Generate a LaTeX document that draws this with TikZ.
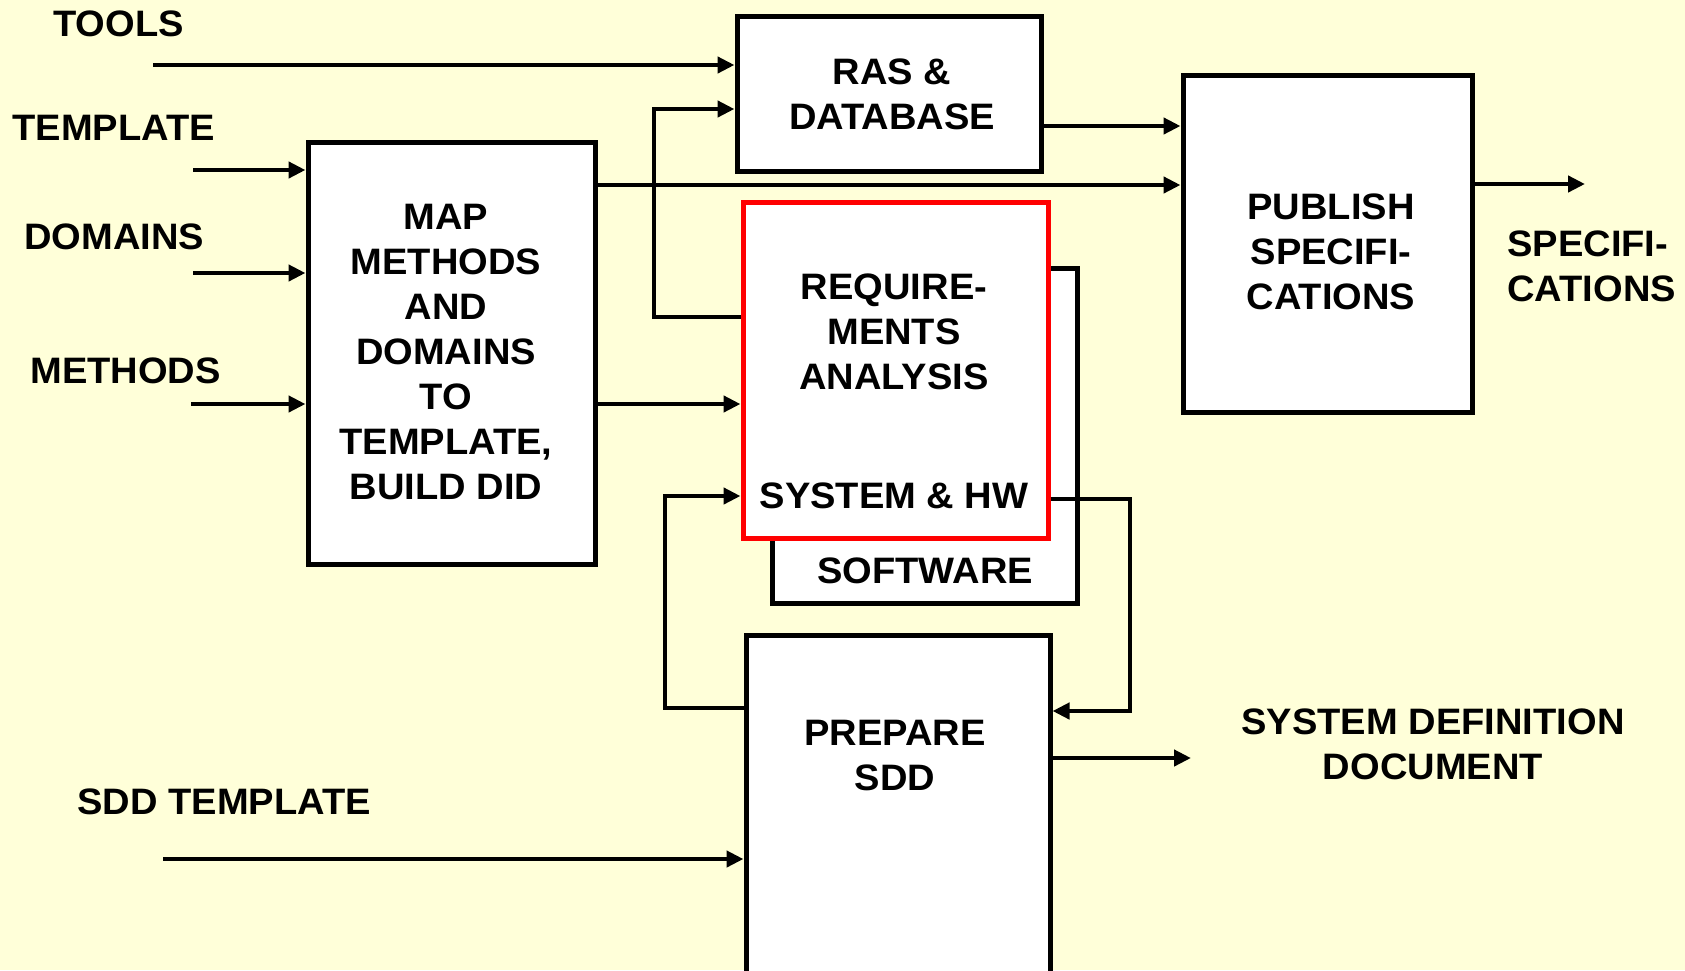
\documentclass[tikz,border=0pt]{standalone}
\usepackage{fontspec}
\setmainfont{Liberation Sans}[FakeStretch=1.035]
\usetikzlibrary{arrows.meta}
\definecolor{bg}{HTML}{FFFFD9}
\definecolor{redbox}{HTML}{FF0000}
\begin{document}
\begin{tikzpicture}[x=0.5pt,y=-0.5pt,
  box/.style={draw=black, fill=white, line width=2.5pt, inner sep=0pt, rectangle},
  lbl/.style={font=\fontsize{18.4pt}{22.5pt}\selectfont\bfseries, align=center, inner sep=0pt},
  inlbl/.style={font=\fontsize{18.4pt}{22.5pt}\selectfont\bfseries, inner sep=0pt, anchor=west, align=left},
  arr/.style={line width=2.3pt, -{Triangle[length=8.5pt,width=8pt]}}]
\path[fill=bg, use as bounding box] (0,0) rectangle (1685,970);
\clip (0,0) rectangle (1685,970);

% boxes
\node[box, minimum width=152pt, minimum height=77.5pt] (ras) at (889,93.5) {};
\node[box, minimum width=143.5pt, minimum height=211pt] (map) at (451.5,353) {};
\node[box, minimum width=152.5pt, minimum height=167.5pt] (sw) at (924.5,435.5) {};
\node[box, draw=redbox, minimum width=152.5pt, minimum height=168pt] (req) at (895.5,370) {};
\node[box, minimum width=144.5pt, minimum height=168.5pt] (pub) at (1327.5,243.5) {};
\node[box, minimum width=152pt, minimum height=170.5pt] (prep) at (898,805.5) {};

% texts in boxes
\node[lbl] (rasT) at (892,94) {RAS \&\\DATABASE};
\node[lbl] (mapT) at (446,352.5) {MAP\\METHODS\\AND\\DOMAINS\\TO\\TEMPLATE,\\BUILD DID};
\node[lbl] (reqT) at (894,332) {REQUIRE-\\MENTS\\ANALYSIS};
\node[lbl] (hwT) at (894,496) {SYSTEM \& HW};
\node[lbl] (swT) at (925,571) {SOFTWARE};
\node[lbl] (pubT) at (1331,252) {PUBLISH\\SPECIFI-\\CATIONS};
\node[lbl] (prepT) at (895,756) {PREPARE\\SDD};

% outside labels
\node[inlbl] (toolsL) at (53,24) {TOOLS};
\node[inlbl] (tmplL) at (12,128) {TEMPLATE};
\node[inlbl] (domL) at (24,237) {DOMAINS};
\node[inlbl] (methL) at (30,371) {METHODS};
\node[inlbl] (sddL) at (77,802) {SDD TEMPLATE};
\node[inlbl] (specL) at (1507,266) {SPECIFI-\\CATIONS};
\node[lbl] (sddocL) at (1433,744.5) {SYSTEM DEFINITION\\DOCUMENT};

% helper coordinates
\coordinate (toolsS) at (153,65);
\coordinate (tmplS) at (193,170);
\coordinate (domS) at (193,273);
\coordinate (methS) at (191,404);
\coordinate (sddS) at (163,859);
\coordinate (y126) at (0,126);
\coordinate (y185) at (0,185);
\coordinate (fbA) at (654,317);
\coordinate (fbB) at (654,109);
\coordinate (hwA) at (1130,499);
\coordinate (hwB) at (1130,711);
\coordinate (prA) at (665,708);
\coordinate (prB) at (665,496);
\coordinate (sddE) at (1191,758);
\coordinate (specE) at (1585,184);

% connectors
\draw[arr] (toolsS) -- (toolsS -| ras.west);
\draw[arr] (tmplS) -- (tmplS -| map.west);
\draw[arr] (domS) -- (domS -| map.west);
\draw[arr] (methS) -- (methS -| map.west);
\draw[arr] (sddS) -- (sddS -| prep.west);
\draw[arr] (map.east |- y185) -- (pub.west |- y185);
\draw[arr] (map.east |- methS) -- (req.west |- methS);
\draw[arr] (ras.east |- y126) -- (pub.west |- y126);
\draw[arr] (fbA -| req.west) -- (fbA) -- (fbB) -- (fbB -| ras.west);
\draw[arr] (hwA -| req.east) -- (hwA) -- (hwB) -- (hwB -| prep.east);
\draw[arr] (prA -| prep.west) -- (prA) -- (prB) -- (prB -| req.west);
\draw[arr] (sddE -| prep.east) -- (sddE);
\draw[arr] (specE -| pub.east) -- (specE);
\end{tikzpicture}
\end{document}
